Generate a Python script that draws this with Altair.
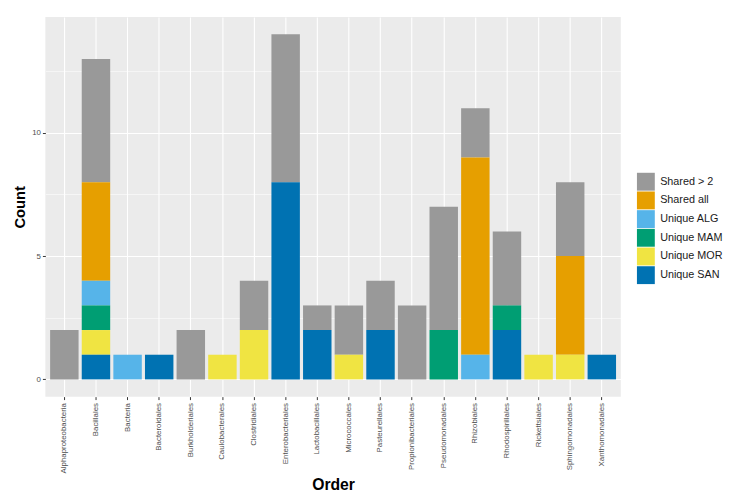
import altair as alt
import pandas as pd

orders = ["Alphaproteobacteria", "Bacillales", "Bacteria", "Bacteroidales",
          "Burkholderiales", "Caulobacterales", "Clostridiales", "Enterobacteriales",
          "Lactobacillales", "Micrococcales", "Pasteurellales", "Propionibacteriales",
          "Pseudomonadales", "Rhizobiales", "Rhodospirillales", "Rickettsiales",
          "Sphingomonadales", "Xanthomonadales"]
groups = ["Shared > 2", "Shared all", "Unique ALG", "Unique MAM", "Unique MOR", "Unique SAN"]
colors = ["#999999", "#E69F00", "#56B4E9", "#009E73", "#F0E442", "#0072B2"]

shared_gt2 = [2, 5, 0, 0, 2, 0, 2, 6, 1, 2, 2, 3, 5, 2, 3, 0, 3, 0]
shared_all = [0, 4, 0, 0, 0, 0, 0, 0, 0, 0, 0, 0, 0, 8, 0, 0, 4, 0]
unique_alg = [0, 1, 1, 0, 0, 0, 0, 0, 0, 0, 0, 0, 0, 1, 0, 0, 0, 0]
unique_mam = [0, 1, 0, 0, 0, 0, 0, 0, 0, 0, 0, 0, 2, 0, 1, 0, 0, 0]
unique_mor = [0, 1, 0, 0, 0, 1, 2, 0, 0, 1, 0, 0, 0, 0, 0, 1, 1, 0]
unique_san = [0, 1, 0, 1, 0, 0, 0, 8, 2, 0, 2, 0, 0, 0, 2, 0, 0, 1]

y_ticks = [0, 2.5, 5, 7.5, 10, 12.5]

series = [shared_gt2, shared_all, unique_alg, unique_mam, unique_mor, unique_san]
rows = []
for gi, (g, vals) in enumerate(zip(groups, series)):
    for o, v in zip(orders, vals):
        if v > 0:
            rows.append({"Order": o, "Group": g, "Count": v, "rank": gi})
df = pd.DataFrame(rows)

W, H = 585, 386
FONT = "Liberation Sans"

chart = alt.Chart(df).mark_bar(stroke=None).encode(
    x=alt.X("Order:N", sort=orders,
            scale=alt.Scale(paddingInner=0.1, paddingOuter=0.15),
            axis=alt.Axis(title="Order", labelAngle=270, labelAlign="right",
                          labelBaseline="middle", labelFontSize=8,
                          labelColor="#4D4D4D", labelFont=FONT, labelPadding=3,
                          tickSize=3, tickColor="#333333", domain=False,
                          grid=True, gridColor="white", gridWidth=1.1,
                          bandPosition=0.5,
                          titleFont=FONT, titleFontSize=16, titleFontWeight="bold",
                          titleColor="black", titlePadding=4)),
    y=alt.Y("Count:Q", stack="zero",
            scale=alt.Scale(domain=[-0.7, 14.7], nice=False, zero=False),
            axis=alt.Axis(title="Count", values=y_ticks,
                          labelExpr="datum.value % 5 === 0 ? format(datum.value, 'd') : ''",
                          labelFontSize=8, labelColor="#4D4D4D", labelFont=FONT,
                          labelPadding=2,
                          tickSize=3, tickColor="#333333",
                          tickOpacity={"condition": {"test": "datum.value % 5 !== 0", "value": 0}, "value": 1},
                          gridWidth={"condition": {"test": "datum.value % 5 !== 0", "value": 0.55}, "value": 1.1},
                          domain=False, grid=True, gridColor="white",
                          titleFont=FONT, titleFontSize=15, titleFontWeight="bold",
                          titleColor="black", titlePadding=4)),
    color=alt.Color("Group:N", sort=groups,
                    scale=alt.Scale(domain=groups, range=colors),
                    legend=alt.Legend(title=None, orient="none",
                                      legendX=W + 16, legendY=158,
                                      symbolType="square", symbolSize=330,
                                      symbolStrokeWidth=0, symbolOpacity=1,
                                      rowPadding=0, labelFontSize=11,
                                      labelFont=FONT, labelColor="#1A1A1A",
                                      labelOffset=5, padding=0)),
    order=alt.Order("rank:Q", sort="descending"),
).properties(width=W, height=H, background="white").configure_view(
    fill="#EBEBEB", stroke=None
)

chart.save("out.html", embed_options={"renderer": "svg", "actions": False})
